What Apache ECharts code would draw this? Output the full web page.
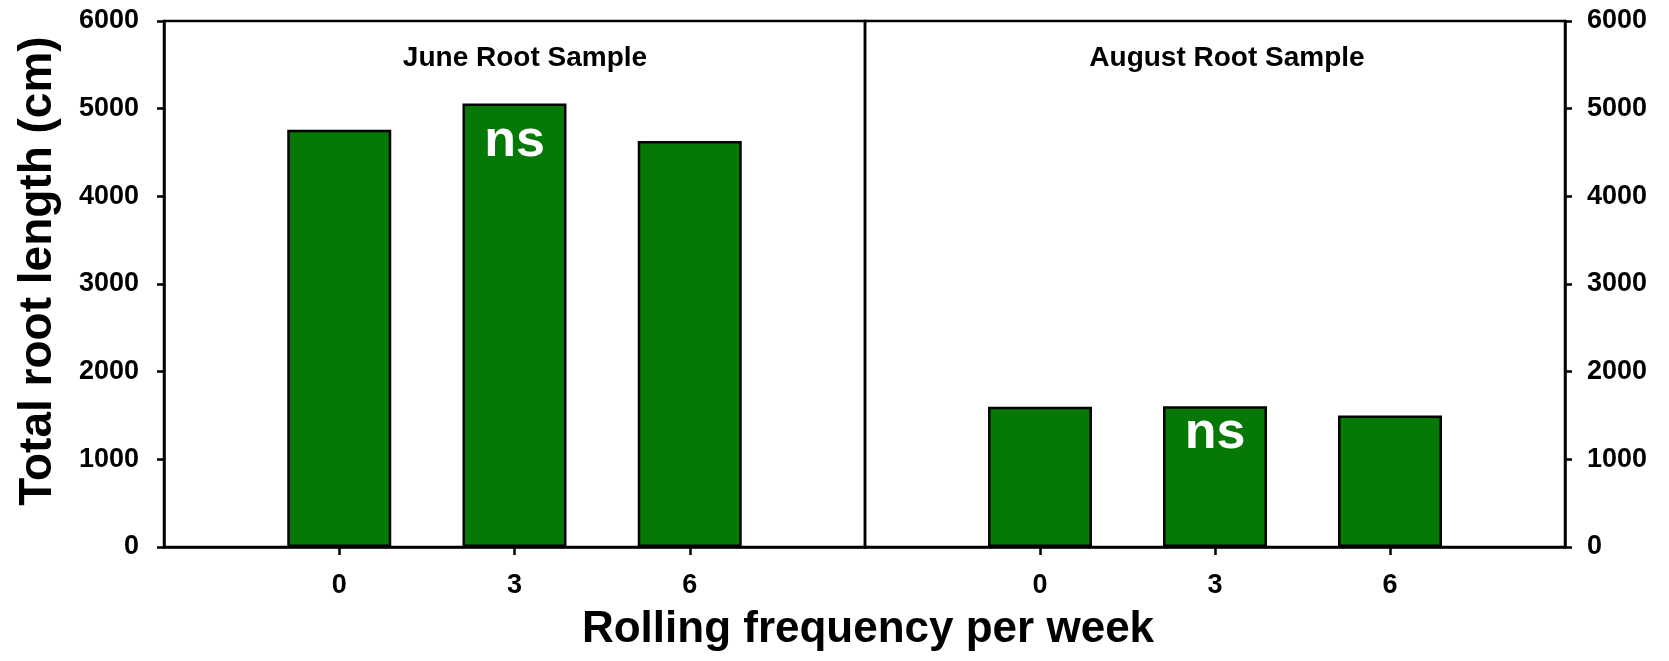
<!DOCTYPE html>
<html>
<head>
<meta charset="utf-8">
<script src="https://cdn.jsdelivr.net/npm/echarts@6/dist/echarts.min.js"></script>
<style>
  html, body { margin: 0; padding: 0; background: #fff; }
  #chart { width: 1669px; height: 661px; }
</style>
</head>
<body>
<div id="chart"></div>
<script>
// ---- data ----
const frequencies = [0, 3, 6];
const juneValues = [4760, 5060, 4630];
const augustValues = [1600, 1605, 1500];
const yTicks = [0, 1000, 2000, 3000, 4000, 5000, 6000];
const panelTitles = ['June Root Sample', 'August Root Sample'];
const nsIndex = 1; // bar carrying the "ns" annotation
const xTitle = 'Rolling frequency per week';
const yTitle = 'Total root length (cm)';

const FONT = '"Liberation Sans", Arial, Helvetica, sans-serif';
const GREEN = '#057805';

function buildData(values, nsOffset) {
  return frequencies.map((f, i) => {
    const item = { value: [f, values[i]] };
    if (i === nsIndex) {
      item.label = {
        show: true, formatter: 'ns', position: ['50%', nsOffset],
        align: 'center', verticalAlign: 'middle',
        color: '#fff', fontSize: 52, fontWeight: 'bold', fontFamily: FONT
      };
    }
    return item;
  });
}

function xAxisCfg(gi) {
  return {
    type: 'value', gridIndex: gi, min: -3, max: 9,
    axisLine: { show: true, onZero: false, lineStyle: { color: '#000', width: 2.5 } },
    axisTick: { show: true, customValues: frequencies, length: 8, lineStyle: { color: '#000', width: 2.5 } },
    axisLabel: { customValues: frequencies, margin: 25, color: '#000', fontSize: 27, fontWeight: 'bold', fontFamily: FONT },
    splitLine: { show: false }
  };
}
function yAxisCfg(gi, pos, margin) {
  return {
    type: 'value', gridIndex: gi, position: pos, min: yTicks[0], max: yTicks[yTicks.length - 1], interval: 1000,
    axisLine: { show: true, onZero: false, lineStyle: { color: '#000', width: 2.5 } },
    axisTick: { show: true, length: 7, lineStyle: { color: '#000', width: 2.5 } },
    axisLabel: { margin: margin, color: '#000', fontSize: 27, fontWeight: 'bold', fontFamily: FONT,
                 formatter: v => String(v) },
    splitLine: { show: false }
  };
}

const chart = echarts.init(document.getElementById('chart'), null, { renderer: 'canvas' });
chart.setOption({
  animation: false,
  backgroundColor: '#fff',
  grid: [
    { left: 164, top: 21, width: 701, height: 526, show: true, borderColor: '#000', borderWidth: 2.5, backgroundColor: 'transparent' },
    { left: 865, top: 21, width: 700, height: 526, show: true, borderColor: '#000', borderWidth: 2.5, backgroundColor: 'transparent' }
  ],
  xAxis: [xAxisCfg(0), xAxisCfg(1)],
  yAxis: [yAxisCfg(0, 'left', 25), yAxisCfg(1, 'right', 22)],
  series: [
    {
      type: 'bar', xAxisIndex: 0, yAxisIndex: 0, barWidth: 104,
      itemStyle: { color: GREEN, borderColor: '#000', borderWidth: 2.5 },
      data: buildData(juneValues, 38)
    },
    {
      type: 'bar', xAxisIndex: 1, yAxisIndex: 1, barWidth: 104,
      itemStyle: { color: GREEN, borderColor: '#000', borderWidth: 2.5 },
      data: buildData(augustValues, 27)
    }
  ],
  graphic: [
    { type: 'text', x: 525, y: 58, style: { text: panelTitles[0], font: 'bold 28px ' + FONT, fill: '#000', textAlign: 'center', textVerticalAlign: 'middle' } },
    { type: 'text', x: 1227, y: 58, style: { text: panelTitles[1], font: 'bold 28px ' + FONT, fill: '#000', textAlign: 'center', textVerticalAlign: 'middle' } },
    { type: 'text', x: 868, y: 630, style: { text: xTitle, font: 'bold 44px ' + FONT, fill: '#000', textAlign: 'center', textVerticalAlign: 'middle' } },
    { type: 'text', x: 38, y: 271, rotation: Math.PI / 2, style: { text: yTitle, font: 'bold 46px ' + FONT, fill: '#000', textAlign: 'center', textVerticalAlign: 'middle' } }
  ]
});
</script>
</body>
</html>
